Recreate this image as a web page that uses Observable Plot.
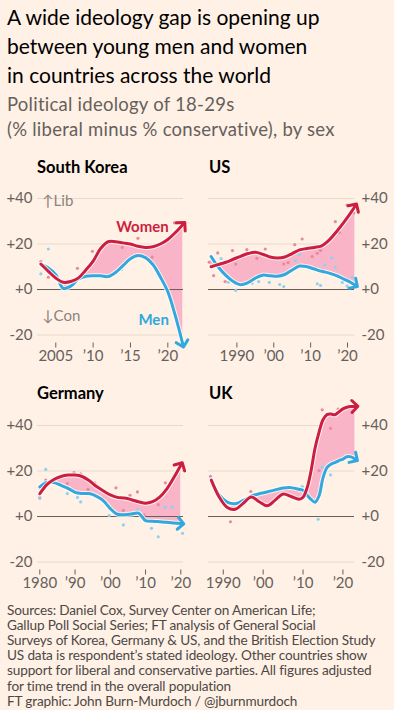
<!DOCTYPE html>
<html><head><meta charset="utf-8">
<script src="https://cdn.jsdelivr.net/npm/d3@7"></script>
<script src="https://cdn.jsdelivr.net/npm/@observablehq/plot@0.6"></script>
<style>
html,body{margin:0;padding:0;background:#fff1e5;}
#chart{position:relative;width:394px;height:710px;background:#fff1e5;font-family:Lato,sans-serif;overflow:hidden}
.title{position:absolute;left:7px;top:2px;font-size:21px;line-height:29px;color:#000;white-space:nowrap}
.sub{position:absolute;left:7px;top:91.5px;font-size:18.5px;line-height:25px;letter-spacing:0.25px;color:#66605c;white-space:nowrap}
.ptitle{position:absolute;font-weight:bold;font-size:16.5px;line-height:16px;color:#000;white-space:nowrap}
.panel{position:absolute}
.panel svg{overflow:visible}
.foot{position:absolute;left:7px;top:602.5px;font-size:13.6px;line-height:15.2px;letter-spacing:-0.15px;color:#4d4845;white-space:nowrap}
</style></head>
<body>
<div id="chart">
  <div class="title">A wide ideology gap is opening up<br>between young men and women<br>in countries across the world</div>
  <div class="sub">Political ideology of 18-29s<br>(% liberal minus % conservative), by sex</div>
  <div class="ptitle" style="left:37px;top:158.5px">South Korea</div>
  <div class="ptitle" style="left:209px;top:158.5px">US</div>
  <div class="ptitle" style="left:37px;top:384.5px">Germany</div>
  <div class="ptitle" style="left:209px;top:384.5px">UK</div>
  <div class="panel" id="p-sk" style="left:0;top:180px"></div>
  <div class="panel" id="p-us" style="left:197px;top:180px"></div>
  <div class="panel" id="p-de" style="left:0;top:406.5px"></div>
  <div class="panel" id="p-uk" style="left:197px;top:406.5px"></div>
  <div class="foot">Sources: Daniel Cox, Survey Center on American Life;<br>Gallup Poll Social Series; FT analysis of General Social<br>Surveys of Korea, Germany &amp; US, and the British Election Study<br>US data is respondent’s stated ideology. Other countries show<br>support for liberal and conservative parties. All figures adjusted<br>for time trend in the overall population<br>FT graphic: John Burn-Murdoch / @jburnmurdoch</div>
</div>
<script>
// ---- data ----
const yTicks = [-20, 0, 20, 40];
const yTickLabels = ["-20", "+0", "+20", "+40"];

const skYears = [2003, 2004, 2005, 2006, 2007, 2008, 2009, 2010, 2011, 2012, 2013, 2014, 2015, 2016, 2017, 2018, 2019, 2020, 2021, 2022];
const skWomen = [11.2, 8, 5, 3.2, 3.5, 5, 8.5, 12.5, 18, 21, 21, 20.5, 20, 19, 18.5, 18.8, 20, 22, 25, 28.5];
const skMen   = [11, 9.5, 6.5, 0.5, 1.5, 4.5, 5.8, 6.1, 6, 5.7, 7.5, 10.5, 13.5, 14.9, 14, 11, 5.5, -1, -11.5, -24];
const skWomenDots = [[2003, 12.3], [2004, 5.4], [2007.9, 9.3], [2009.9, 16.8], [2013.9, 18.5], [2016, 22.5], [2017.9, 14.2], [2020.9, 29.3]];
const skMenDots = [[2003, 6.9], [2004, 17.8], [2009, 5.4], [2013.8, 8.8], [2016, 14.7]];
const skTicks = [2005, 2010, 2015, 2020];
const skTickLabels = ["2005", "’10", "’15", "’20"];

const usYears = [1983, 1985, 1987, 1989, 1991, 1993, 1995, 1997, 1999, 2001, 2003, 2005, 2007, 2009, 2011, 2013, 2015, 2017, 2019, 2021, 2022];
const usWomen = [10, 11, 12, 13.3, 14.6, 15.8, 16.4, 15.5, 14.3, 13.9, 14.3, 15.8, 17.4, 18, 18.5, 19.2, 21.7, 25.4, 29.5, 34, 36.5];
const usMen   = [14.5, 9.8, 6.2, 3.5, 2.1, 3, 5, 6.3, 6, 5.8, 6.6, 8.6, 10.3, 10, 9, 8, 7.2, 6.1, 4.6, 3, 2];
const usWomenDots = [[1982.5, 12], [1983.7, 6.1], [1984.8, 16.1], [1986.8, 3.5], [1988.8, 17.1], [1989.7, 11.2], [1992.7, 17.5], [1995.4, 13.7], [1997.7, 17.8], [2002.7, 11.2], [2003.9, 11.8], [2005.7, 19.7], [2007.7, 22.2], [2010.4, 14.5], [2011.8, 15.9], [2012.7, 17.1], [2016.7, 29.8], [2017.8, 25.1], [2019.9, 37.1], [2021.7, 33.6]];
const usMenDots = [[1985.7, 13.6], [1987.7, 3.2], [1989.7, -0.4], [1994.1, 2.8], [1995.9, 3.5], [1998.8, 3.1], [2001.6, 2.2], [2002.7, 1.3], [2005.9, 12.7], [2007, 15.3], [2011.8, 2.5], [2012.7, 1.8], [2013.8, 10.8], [2015.7, 13.9], [2016.7, 9.8], [2018.6, 3.1], [2019.9, 1.5], [2021.3, 5.4]];
const usTicks = [1990, 2000, 2010, 2020];
const usTickLabels = ["1990", "’00", "’10", "’20"];

const deYears = [1980, 1982, 1984, 1986, 1988, 1990, 1992, 1994, 1996, 1998, 2000, 2002, 2004, 2006, 2008, 2010, 2012, 2014, 2016, 2018, 2020];
const deWomen = [10, 14, 16.3, 17.6, 18.2, 18.2, 17.6, 15.8, 13.3, 11.3, 9.5, 8.4, 8.1, 7.4, 6.5, 5.8, 6.5, 8.5, 12, 17, 22.5];
const deMen   = [13, 15, 14.9, 13.7, 12.4, 10.6, 10.1, 10.1, 9, 7, 3.5, 1, 0.8, 1.1, 1.5, -1.8, -2.1, -2.3, -2.5, -2.8, -3.1];
const deWomenDots = [[1980, 8.1], [1981.7, 16], [1987.8, 14.5], [1989.7, 19.3], [1991.6, 18.8], [1993.7, 11.9], [1995.6, 14.8], [1997.8, 7.9], [2001.6, 12.6], [2003.7, 2.7], [2005.6, 9.3], [2007.7, 10.8], [2009.6, 0.7], [2013.6, 5.2], [2015.6, 14.8]];
const deMenDots = [[1980, 8.6], [1981.7, 20.7], [1987.8, 10.1], [1990.7, 8.4], [1991.6, 6.4], [1999.7, 0.4], [2003.7, -3.7], [2007.7, 3], [2011.7, -5.2], [2013.6, -8.9], [2015.6, 4.1], [2017.6, 4.1], [2020.5, -7.4]];
const deTicks = [1980, 1990, 2000, 2010, 2020];
const deTickLabels = ["1980", "’90", "’00", "’10", "’20"];

const ukYears = [1987, 1989, 1991, 1993, 1995, 1997, 1999, 2001, 2003, 2005, 2007, 2009, 2010, 2011, 2012, 2013, 2014, 2015, 2016, 2017, 2018, 2019, 2020, 2021, 2022, 2023];
const ukWomen = [16, 8.5, 4, 3.2, 5.8, 8.6, 6.5, 4.7, 7.2, 9.9, 8.8, 7.6, 8.5, 12.5, 20, 30, 37, 42.5, 44.8, 45, 44.7, 46, 47.3, 48, 48.3, 48.4];
const ukMen   = [16, 9.5, 6.3, 5.6, 7.1, 9, 10, 10.8, 11.7, 12.5, 12.7, 12, 11.5, 9.5, 7.5, 6.3, 9, 17, 21.5, 23, 23.7, 24.6, 25.2, 26.3, 26.2, 25.3];
const ukWomenDots = [[1986.8, 17.6], [1991.8, -2.3], [1996.9, 11], [2014, 20.2], [2014.8, 46.9], [2016.9, 38.8], [2018.8, 47.2]];
const ukMenDots = [[1986.8, 16.8], [2009.8, 13.2], [2013.8, -1.2], [2014.8, 21.7], [2016.9, 18.3]];
const ukTicks = [1990, 2000, 2010, 2020];
const ukTickLabels = ["1990", "’00", "’10", "’20"];

// ---- styles ----
const RED = "#cc1f40", BLUE = "#33a8dc", PINK = "#f9b5c7";
const RED_DOT = "#e8899d", BLUE_DOT = "#8fd2ee";
const GRID = "#e8d9cc", ZERO = "#66605c", TEXT = "#66605c";

function panel(el, years, women, men, wDots, mDots, xDomain, ticks, tickLabels, side, extra) {
  const rows = years.map((yr, i) => ({year: yr, women: women[i], men: men[i]}));
  const wd = wDots.map(([year, v]) => ({year, v}));
  const md = mDots.map(([year, v]) => ({year, v}));
  const left = side === "left";
  const curve = "catmull-rom";
  const plot = Plot.plot({
    width: 197,
    height: 188,
    marginTop: 18,
    marginBottom: 25.5,
    marginLeft: left ? 37 : 11,
    marginRight: left ? 14 : 40,
    style: {fontFamily: "Lato, sans-serif", fontSize: "15px", color: TEXT, background: "transparent", overflow: "visible"},
    x: {domain: xDomain, ticks, tickFormat: d => tickLabels[ticks.indexOf(d)], tickSize: 5, tickPadding: 2, label: null},
    y: {domain: [-23.5, 40], ticks: yTicks, tickFormat: d => yTickLabels[yTicks.indexOf(d)], tickSize: 0, tickPadding: left ? 5 : 7, axis: side, label: null},
    marks: [
      Plot.ruleY([-20, 20, 40], {stroke: GRID, strokeWidth: 1}),
      Plot.areaY(rows, {x: "year", y1: "men", y2: "women", fill: PINK, curve}),
      Plot.ruleY([0], {stroke: ZERO, strokeWidth: 1}),
      Plot.dot(wd, {x: "year", y: "v", r: 1.6, fill: RED_DOT}),
      Plot.dot(md, {x: "year", y: "v", r: 1.6, fill: BLUE_DOT}),
      Plot.line(rows, {x: "year", y: "men", stroke: "#fff", strokeOpacity: 0.8, strokeWidth: 5, curve}),
      Plot.line(rows, {x: "year", y: "men", stroke: BLUE, strokeWidth: 3, curve, markerEnd: "arrow"}),
      Plot.line(rows, {x: "year", y: "women", stroke: "#fff", strokeOpacity: 0.8, strokeWidth: 5, curve}),
      Plot.line(rows, {x: "year", y: "women", stroke: RED, strokeWidth: 3, curve, markerEnd: "arrow"}),
      ...(extra || [])
    ]
  });
  document.getElementById(el).appendChild(plot);
}

const skNotes = [
  Plot.text([{x: 2003.2, y: 38.6, t: "↑Lib"}], {x: "x", y: "y", text: "t", textAnchor: "start", fill: "#8a847f", fontSize: 15}),
  Plot.text([{x: 2003.2, y: -11.8, t: "↓Con"}], {x: "x", y: "y", text: "t", textAnchor: "start", fill: "#8a847f", fontSize: 15}),
  Plot.text([{x: 2016.6, y: 27.2, t: "Women"}], {x: "x", y: "y", text: "t", fill: RED, fontSize: 15, fontWeight: "bold"}),
  Plot.text([{x: 2018.1, y: -13.6, t: "Men"}], {x: "x", y: "y", text: "t", fill: BLUE, fontSize: 15, fontWeight: "bold"})
];

panel("p-sk", skYears, skWomen, skMen, skWomenDots, skMenDots, [2002.55, 2022.1], skTicks, skTickLabels, "left", skNotes);
panel("p-us", usYears, usWomen, usMen, usWomenDots, usMenDots, [1982.3, 2021.9], usTicks, usTickLabels, "right");
panel("p-de", deYears, deWomen, deMen, deWomenDots, deMenDots, [1979.35, 2020.77], deTicks, deTickLabels, "left");
panel("p-uk", ukYears, ukWomen, ukMen, ukWomenDots, ukMenDots, [1986.3, 2022.9], ukTicks, ukTickLabels, "right");
</script>
</body></html>
